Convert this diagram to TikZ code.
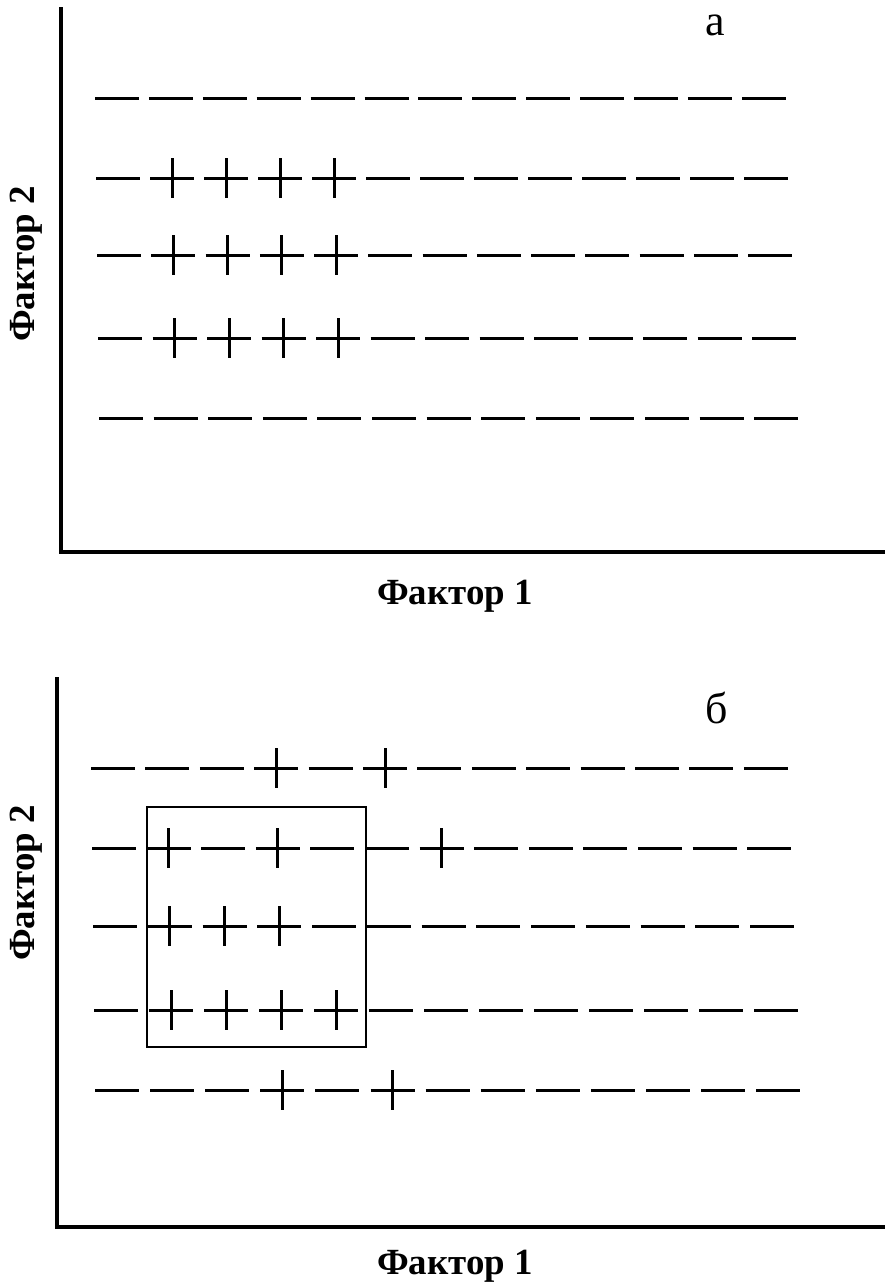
\documentclass[tikz,border=0pt]{standalone}
\usepackage{fontspec}
\setmainfont{Liberation Serif}
\usepackage{tikz}

\tikzset{
	axis line/.style={line width=0.7mm, line cap=rect},
	bar/.style={line width=0.6mm},
	frame/.style={line width=0.55mm},
	axis label/.style={font=\fontsize{21}{25}\selectfont\bfseries, inner sep=0pt},
	panel label/.style={font=\fontsize{25}{30}\selectfont, inner sep=0pt}
}

% one row of 13 bars: y, centre of first bar, pitch
\newcommand{\barrow}[3]{%
	\foreach \k in {0,...,12}
		\draw[bar] ({#2+\k*#3-22},#1) -- ++(44,0);
}
% vertical strokes that turn bars into plus signs: y, centre, pitch, indices
\newcommand{\plusmarks}[4]{%
	\foreach \k in {#4}
		\draw[bar] ({#2+\k*#3},{#1-20}) -- ++(0,40);
}

\begin{document}
\begin{tikzpicture}[x=0.2mm, y=-0.2mm]
	\useasboundingbox (0,0) rectangle (885,1286);

	% Panel a:
	\draw[axis line] (61,9) -- (61,552) -- (885,552);
	\node[panel label, anchor=base] (lbla) at (715,35) {а};
	\node[axis label] (xlabela) at (455,596) {Фактор 1};
	\node[axis label, rotate=90] (ylabela) at (26,264) {Фактор 2};
	\barrow{98}{117}{53.9}
	\barrow{178}{118}{54}
	\barrow{255}{119}{54.25}
	\barrow{338}{120}{54.5}
	\barrow{418}{121}{54.6}
	\plusmarks{178}{118}{54}{1,2,3,4}
	\plusmarks{255}{119}{54.25}{1,2,3,4}
	\plusmarks{338}{120}{54.5}{1,2,3,4}

	% Panel b:
	\draw[axis line] (57,679) -- (57,1227) -- (885,1227);
	\node[panel label, anchor=base] (lblb) at (717,723) {б};
	\node[axis label] (xlabelb) at (455,1266) {Фактор 1};
	\node[axis label, rotate=90] (ylabelb) at (26,883) {Фактор 2};
	\barrow{768}{113}{54.4}
	\barrow{848}{114}{54.6}
	\barrow{926}{115}{54.75}
	\barrow{1010}{116}{55}
	\barrow{1090}{117}{55.1}
	\plusmarks{768}{113}{54.4}{3,5}
	\plusmarks{848}{114}{54.6}{1,3,6}
	\plusmarks{926}{115}{54.75}{1,2,3}
	\plusmarks{1010}{116}{55}{1,2,3,4}
	\plusmarks{1090}{117}{55.1}{3,5}
	\draw[frame] (147,807) rectangle (366,1047);
\end{tikzpicture}
\end{document}
